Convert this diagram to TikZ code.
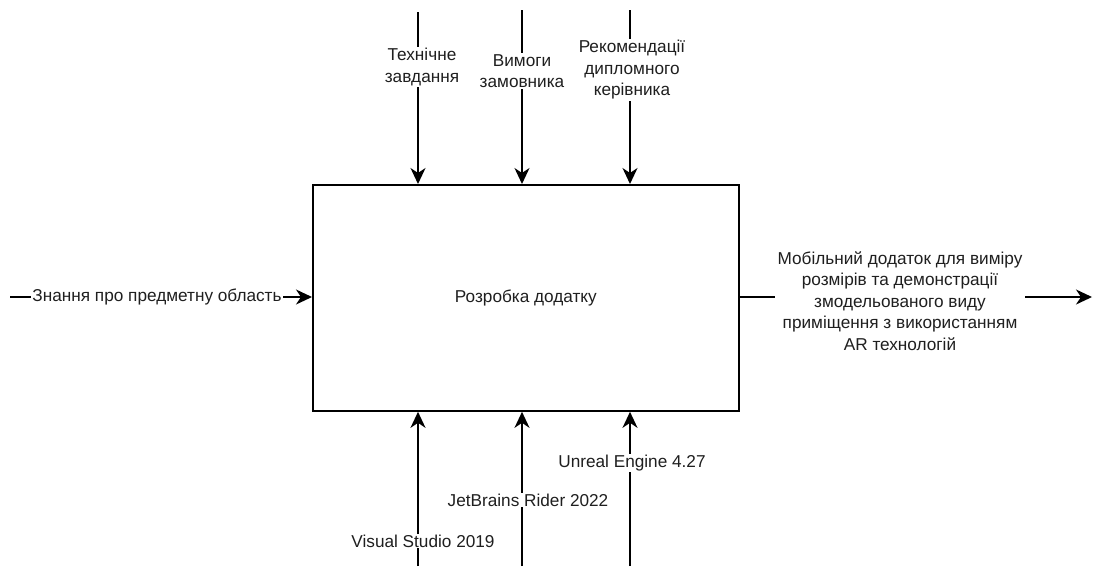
\documentclass[tikz,border=0pt]{standalone}
\usepackage{fontspec}
\setmainfont{Liberation Sans}
\usetikzlibrary{arrows.meta}
\begin{document}
\begin{tikzpicture}[x=1pt,y=-1pt,
  lbl/.style={fill=white,inner sep=1pt,align=center,font=\fontsize{17.2}{21.5}\selectfont,text=black!88},
  flow/.style={line width=1.8pt,-{Stealth[length=16pt,width=15pt,inset=5pt]}}]
\useasboundingbox (0,0) rectangle (1094,566);
% function block
\node[draw,line width=1.8pt,minimum width=426pt,minimum height=226pt,anchor=north west,
  font=\fontsize{17.2}{21.5}\selectfont,text=black!88] (box) at (312,184) {Розробка додатку};
% control arrows from above
\coordinate (c1) at (418,12);
\coordinate (c2) at (522,10);
\coordinate (c3) at (630,10);
\draw[flow] (c1) -- (box.north west -| c1);
\draw[flow] (c2) -- (box.north west -| c2);
\draw[flow] (c3) -- (box.north west -| c3);
\node[lbl] (t1) at (422,67) {Технічне\\завдання};
\node[lbl] (t2) at (522,71) {Вимоги\\замовника};
\node[lbl] (t3) at (632,70) {Рекомендації\\дипломного\\керівника};
% input
\coordinate (in) at (10,297);
\draw[flow] (in) -- (box.west |- in);
\node[lbl] (il) at (157,297) {Знання про предметну область};
% output
\coordinate (out) at (1092,297);
\draw[flow] (box.east |- out) -- (out);
\node[lbl,minimum width=250pt,inner ysep=2pt] (ol) at (900,301) {Мобільний додаток для виміру\\розмірів та демонстрації\\змодельованого виду\\приміщення з використанням\\AR технологій};
% mechanism arrows from below
\coordinate (m1) at (418,566);
\coordinate (m2) at (522,566);
\coordinate (m3) at (630,566);
\draw[flow] (m1) -- (box.south west -| m1);
\draw[flow] (m2) -- (box.south west -| m2);
\draw[flow] (m3) -- (box.south west -| m3);
\node[lbl] (b1) at (423,541) {Visual Studio 2019};
\node[lbl] (b2) at (528,500) {JetBrains Rider 2022};
\node[lbl] (b3) at (632,463) {Unreal Engine 4.27};
\end{tikzpicture}
\end{document}
